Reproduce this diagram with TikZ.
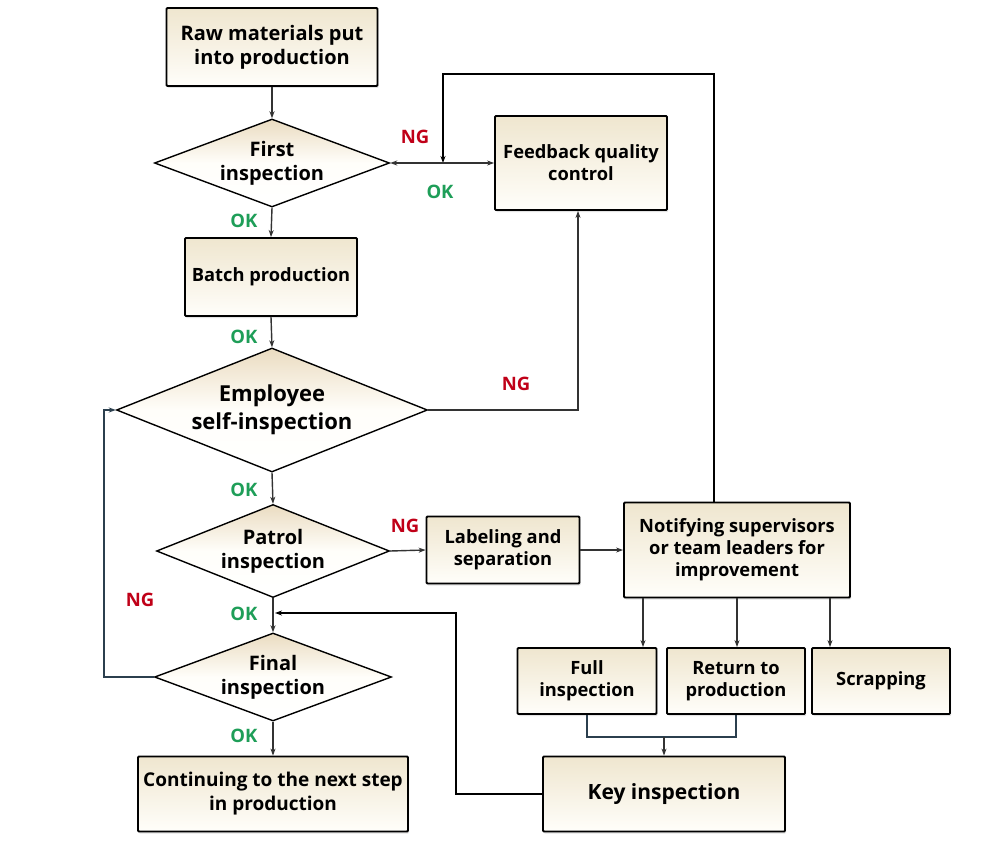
\documentclass[tikz,border=0pt]{standalone}
\usepackage{fontspec}
\setmainfont{Open Sans}
\usetikzlibrary{shapes.geometric,arrows.meta,shadows}
\definecolor{boxtop}{HTML}{EFE6CF}
\definecolor{boxbot}{HTML}{FFFEFA}
\definecolor{conn}{HTML}{333333}
\definecolor{slate}{HTML}{2B3F4E}
\definecolor{okgreen}{HTML}{1E9E58}
\definecolor{ngred}{HTML}{C00018}
\newcommand{\fs}[2]{\bfseries\fontsize{#1}{#2}\selectfont}
\begin{document}
\begin{tikzpicture}[x=1pt,y=-1pt,
  shadowed/.style={drop shadow={shadow xshift=1pt,shadow yshift=-2pt,opacity=0.18,fill=black!60}},
  box/.style={rectangle, draw=black, line width=1.8pt, rounded corners=1pt,
    top color=boxtop, bottom color=boxbot, align=center, inner sep=0pt,
    font=\fs{18.3}{22}, shadowed},
  dia/.style={diamond, draw=black, line width=1.4pt, top color=boxtop!90!brown, bottom color=white,
    middle color=boxbot, inner sep=0pt},
  dtext/.style={align=center, font=\fs{20}{24}},
  con/.style={draw=conn, line width=1.4pt, -{Stealth[length=7pt,width=5pt]}},
  ok/.style={text=okgreen, font=\fs{18.5}{18}},
  ng/.style={text=ngred, font=\fs{18.5}{18}}]
\useasboundingbox[fill=white] (0,0) rectangle (1000,848);

% left column
\node[box, minimum width=211, minimum height=78, font=\fs{20}{24}] (raw) at (272,47) {Raw materials put\\into production};
\node[dia, minimum width=235, minimum height=88, label={[dtext]center:{First\\inspection}}] (first) at (272,163) {};
\node[box, minimum width=172, minimum height=78] (batch) at (271,277) {Batch production};
\node[dia, minimum width=311, minimum height=124, label={[dtext, font=\fs{22}{28}]center:{Employee\\self-inspection}}] (emp) at (272,410) {};
\node[dia, minimum width=233, minimum height=93, label={[dtext]center:{Patrol\\inspection}}] (patrol) at (273,551) {};
\node[dia, minimum width=237, minimum height=88, label={[dtext]center:{Final\\inspection}}] (final) at (273,677) {};
\node[box, minimum width=270, minimum height=75, font=\fs{19}{24}] (cont) at (273,794) {Continuing to the next step\\in production};

% right part
\node[box, minimum width=172, minimum height=94] (feed) at (581,163) {Feedback quality\\control};
\node[box, minimum width=153, minimum height=67] (lab) at (503,550) {Labeling and\\separation};
\node[box, minimum width=226, minimum height=95] (notif) at (737,550) {Notifying supervisors\\or team leaders for\\improvement};
\node[box, minimum width=139, minimum height=66] (full) at (587,681) {Full\\inspection};
\node[box, minimum width=138, minimum height=66] (ret) at (736,681) {Return to\\production};
\node[box, minimum width=138, minimum height=66] (scrap) at (881,681) {Scrapping};
\node[box, minimum width=242, minimum height=75, font=\fs{21}{26}] (key) at (664,794) {Key inspection};

% coordinates
\coordinate (j) at (443,163);
\coordinate (top) at (443,74);
\coordinate (m) at (664,737);
\coordinate (kj) at (275,613);
\coordinate (kc) at (456,613);
\coordinate (lp) at (104,410);

% main flow
\draw[con] (raw.south) -- (first.north);
\draw[con] (first.south) -- (batch.north);
\draw[con] (batch.south) -- (emp.north);
\draw[con] (emp.south) -- (patrol.north);
\draw[con] (patrol.south) -- (final.north);
\draw[con] (final.south) -- (cont.north);

% feedback
\draw[con] (emp.east) -| ([xshift=-3pt]feed.south);
\draw[con, draw=black] ([xshift=-23pt]notif.north) |- (top) -- (j);
\draw[con] (j) -- (first.east);
\draw[con] (j) -- (feed.west);

% patrol branch
\draw[con] (patrol.east) -- (lab.west);
\draw[con] (lab.east) -- (notif.west);
\draw[con] ([xshift=-94pt]notif.south) -- ([xshift=-94pt]notif.south |- full.north);
\draw[con] (notif.south) -- (notif.south |- ret.north);
\draw[con] ([xshift=93pt]notif.south) -- ([xshift=93pt]notif.south |- scrap.north);
\draw[draw=slate, line width=1.4pt] (full.south) |- (m) -| (ret.south);
\draw[con] (m) -- (key.north);
\draw[con, draw=black] (key.west) -| (kc) -- (kj);

% final NG loop
\draw[con, draw=slate] (final.west) -| (lp) -- (emp.west);

% labels
\node[ok] (ok1) at (244,221) {OK};
\node[ok] (ok2) at (244,337) {OK};
\node[ok] (ok3) at (244,490) {OK};
\node[ok] (ok4) at (244,614) {OK};
\node[ok] (ok5) at (244,736) {OK};
\node[ok] (ok6) at (440,192) {OK};
\node[ng] (ng1) at (415,137) {NG};
\node[ng] (ng2) at (516,384) {NG};
\node[ng] (ng3) at (405,526) {NG};
\node[ng] (ng4) at (140,600) {NG};
\end{tikzpicture}
\end{document}
